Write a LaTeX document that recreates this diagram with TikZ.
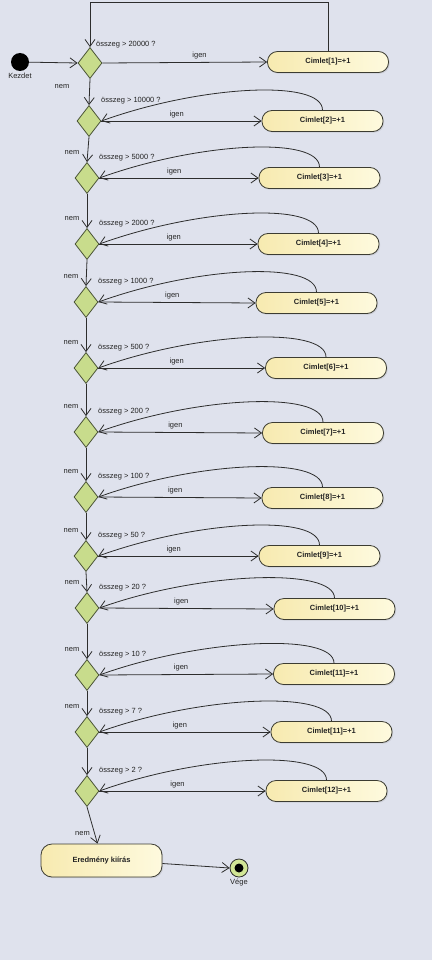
\documentclass[tikz,border=0pt]{standalone}
\usepackage{fontspec}
\setmainfont{Liberation Sans}
\usetikzlibrary{shapes.geometric,arrows.meta,shadows}
\definecolor{bg}{RGB}{223,226,237}
\definecolor{decfill}{RGB}{200,220,140}
\definecolor{decline}{RGB}{75,85,55}
\definecolor{linec}{RGB}{45,45,45}
\definecolor{boxL}{RGB}{247,234,176}
\definecolor{boxR}{RGB}{254,250,222}
\definecolor{boxline}{RGB}{60,60,50}
\definecolor{txt}{RGB}{35,35,35}
\definecolor{endfill}{RGB}{210,230,150}
\begin{document}
\begin{tikzpicture}[x=1pt,y=-1pt,
  dec/.style={diamond, draw=decline, line width=0.8pt, fill=decfill,
    minimum width=24pt, minimum height=31pt, inner sep=0pt},
  act/.style={rectangle, rounded corners=10pt, draw=boxline, line width=0.8pt,
    left color=boxL, right color=boxR, minimum width=121pt, minimum height=21pt,
    inner sep=0pt, font=\fontsize{7.5}{9}\selectfont\bfseries, text=txt,
    drop shadow={shadow xshift=1.2pt, shadow yshift=-1.2pt, opacity=0.2}},
  lbl/.style={font=\fontsize{7.5}{9}\selectfont, text=txt, inner sep=1pt},
  arr/.style={draw=linec, line width=0.8pt, -{Straight Barb[length=7pt,width=10pt]}},
]
\useasboundingbox (0,0) rectangle (432,960);
\fill[bg] (0,0) rectangle (432,960);

% decision diamonds
\foreach \n/\x/\y in {1/90/63, 2/89/121, 3/87/178, 4/87/244, 5/86/302, 6/86/368,
  7/86/432, 8/86/497, 9/86/556, 10/87/608, 11/87/675, 12/87/732, 13/87/791}{
  \node[dec] (d\n) at (\x,\y) {};
}
% condition labels
\node[lbl, anchor=west] (c1) at (95,45) {összeg > 20000 ?};
\foreach \n/\t in {2/10000, 3/5000, 4/2000, 5/1000, 6/500, 7/200, 8/100, 9/50,
  10/20, 11/10, 12/7, 13/2}{
  \node[lbl, anchor=west] (c\n) at ([xshift=11pt,yshift=20pt]d\n.center) {összeg > \t\ ?};
}

% activity boxes
\foreach \n/\x/\y/\t in {1/328/62/{Cimlet[1]=+1}, 2/322.5/121/{Cimlet[2]=+1},
  3/319.5/178/{Cimlet[3]=+1}, 4/318.5/244/{Cimlet[4]=+1}, 5/316.5/303/{Cimlet[5]=+1},
  6/326/368/{Cimlet[6]=+1}, 7/323/433/{Cimlet[7]=+1}, 8/322.5/498/{Cimlet[8]=+1},
  9/319.5/556/{Cimlet[9]=+1}, 10/334.5/609/{Cimlet[10]=+1}, 11/334/674/{Cimlet[11]=+1},
  12/331.5/732/{Cimlet[11]=+1}, 13/326.5/791/{Cimlet[12]=+1}}{
  \node[act] (b\n) at (\x,\y) {\t};
}

% start and end
\node[circle, fill=black, minimum size=18pt, inner sep=0pt] (start) at (20,62) {};
\node[lbl, anchor=north] (kz) at (20,72) {Kezdet};
\node[act, minimum height=33pt, rounded corners=11pt] (er) at (101.5,860.5) {Eredmény kiírás};
\node[circle, draw=linec, line width=0.8pt, fill=endfill, minimum size=18pt, inner sep=0pt] (fin) at (239,868) {};
\node[circle, fill=black, minimum size=9pt, inner sep=0pt] (findot) at (fin.center) {};
\node[lbl, anchor=north] (vg) at (239,878) {Vége};

% connectors
\draw[arr] (start) -- (d1.west);
\coordinate (top) at (0,2);
\draw[arr] (b1.north) -- (b1.north |- top) -| (d1.north);
\draw[arr] (d1.east) -- node[lbl, above=2pt, pos=0.59] (i1) {igen} (b1.west);
\foreach \n in {2,...,13}{
  \draw[arr] (d\n.east) -- node[lbl, above=2pt, pos=0.47] (i\n) {igen} (b\n.west);
  \draw[arr] (b\n.north) .. controls +(0,-31) and +(100,-36) .. (d\n.east);
}
\draw[arr] (d1.south) -- node[lbl, at end, xshift=-27pt, yshift=19pt] (n1) {nem} (d2.north);
\foreach \a/\b in {2/3, 3/4, 4/5, 5/6, 6/7, 7/8, 8/9, 9/10, 10/11, 11/12}{
  \draw[arr] (d\a.south) -- node[lbl, at end, xshift=-15pt, yshift=10pt] (n\a) {nem} (d\b.north);
}
\draw[arr] (d12.south) -- (d13.north);
\draw[arr] (d13.south) -- node[lbl, at end, xshift=-15pt, yshift=10pt] (n13) {nem} ([xshift=-4pt]er.north);
\draw[arr] ([yshift=-3pt]er.east) -- (fin.west);
\end{tikzpicture}
\end{document}
